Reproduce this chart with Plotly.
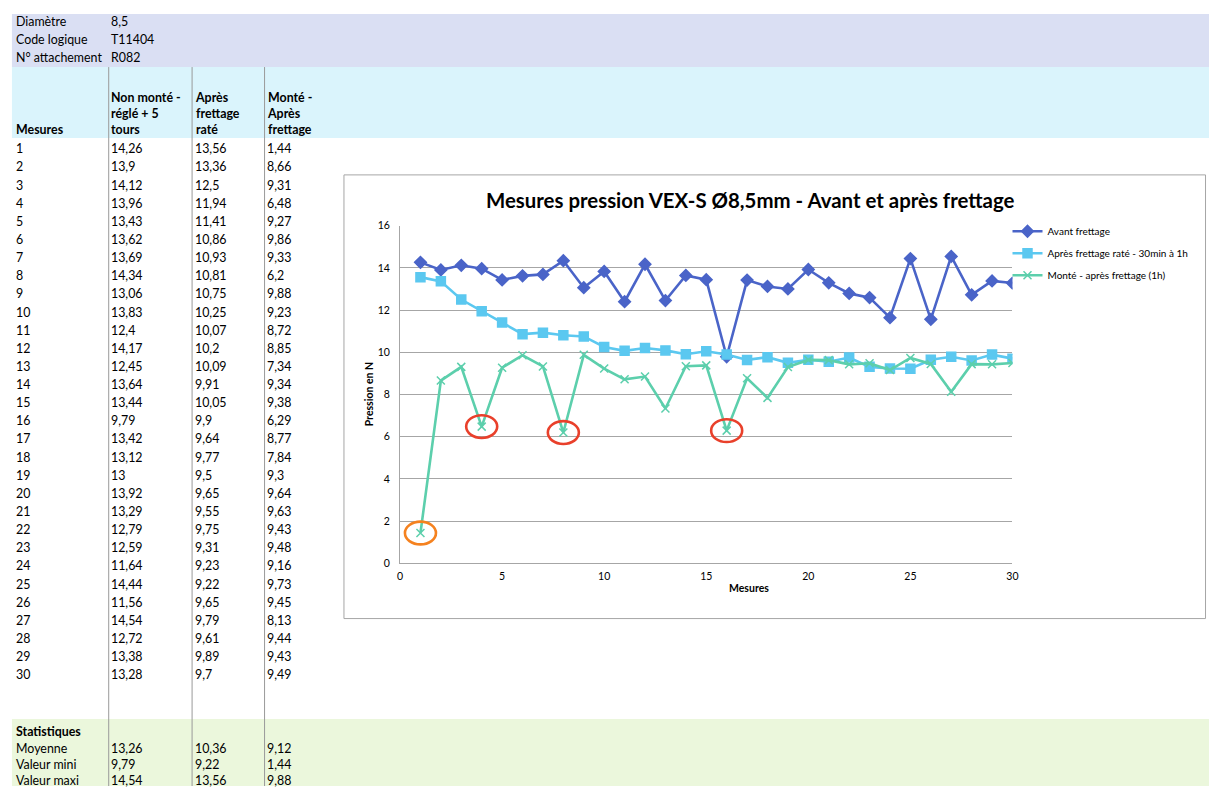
import plotly.graph_objects as go

W, H = 1215, 792
FONT = "Lato"

# ---------------- data ----------------
info_labels = ["Diamètre", "Code logique", "N° attachement"]
info_values = ["8,5", "T11404", "R082"]

header_cols = ["Mesures", "Non monté -<br>réglé + 5<br>tours", "Après<br>frettage<br>raté", "Monté -<br>Après<br>frettage"]

mesures = list(range(1, 31))
non_monte = [14.26, 13.9, 14.12, 13.96, 13.43, 13.62, 13.69, 14.34, 13.06, 13.83,
             12.4, 14.17, 12.45, 13.64, 13.44, 9.79, 13.42, 13.12, 13.0, 13.92,
             13.29, 12.79, 12.59, 11.64, 14.44, 11.56, 14.54, 12.72, 13.38, 13.28]
apres_rate = [13.56, 13.36, 12.5, 11.94, 11.41, 10.86, 10.93, 10.81, 10.75, 10.25,
              10.07, 10.2, 10.09, 9.91, 10.05, 9.9, 9.64, 9.77, 9.5, 9.65,
              9.55, 9.75, 9.31, 9.23, 9.22, 9.65, 9.79, 9.61, 9.89, 9.7]
monte = [1.44, 8.66, 9.31, 6.48, 9.27, 9.86, 9.33, 6.2, 9.88, 9.23,
         8.72, 8.85, 7.34, 9.34, 9.38, 6.29, 8.77, 7.84, 9.3, 9.64,
         9.63, 9.43, 9.48, 9.16, 9.73, 9.45, 8.13, 9.44, 9.43, 9.49]

stat_labels = ["Moyenne", "Valeur mini", "Valeur maxi"]
stat_non_monte = [13.26, 9.79, 14.54]
stat_apres_rate = [10.36, 9.22, 13.56]
stat_monte = [9.12, 1.44, 9.88]

series_names = ["Avant frettage", "Après frettage raté - 30min à 1h", "Monté - après frettage (1h)"]
red_circled = [4, 8, 16]      # measure numbers circled in red
orange_circled = [1]          # measure number circled in orange

chart_title = "Mesures pression VEX-S Ø8,5mm - Avant et après frettage"


def fx(x):
    return x / W


def fy(y):
    return 1 - y / H


def fmt(v):
    return f"{v:g}".replace(".", ",")


fig = go.Figure()

colors = ["#4a64c8", "#5bc8f0", "#5ccfac"]
symbols = ["diamond", "square", "x-thin-open"]
for k, (vals, name, c, s) in enumerate(zip([non_monte, apres_rate, monte], series_names, colors, symbols)):
    fig.add_trace(go.Scatter(
        x=mesures, y=vals, name=name, mode="lines+markers", legendgroup=f"g{k}",
        line=dict(color=c, width=2.6),
        marker=dict(symbol=s, size=9 if s != "x-thin-open" else 8, color=c,
                    line=dict(color=c, width=1.5)),
    ))

shapes = []
# background bands
shapes.append(dict(type="rect", xref="paper", yref="paper", x0=fx(9), x1=1, y0=fy(62), y1=fy(8),
                   fillcolor="#dadff3", line=dict(width=0), layer="below"))
shapes.append(dict(type="rect", xref="paper", yref="paper", x0=fx(9), x1=1, y0=fy(134), y1=fy(62),
                   fillcolor="#daf4fc", line=dict(width=0), layer="below"))
shapes.append(dict(type="rect", xref="paper", yref="paper", x0=fx(9), x1=1, y0=0, y1=fy(724),
                   fillcolor="#ebf7dc", line=dict(width=0), layer="below"))
# column separators
for xv in [106.5, 190.5, 263.5]:
    shapes.append(dict(type="line", xref="paper", yref="paper", x0=fx(xv), x1=fx(xv), y0=0, y1=fy(62),
                       line=dict(color="#9a9a9a", width=1), layer="below"))
# chart box
shapes.append(dict(type="rect", xref="paper", yref="paper", x0=fx(343.5), x1=fx(1211.5), y0=fy(622), y1=fy(171.5),
                   fillcolor="white", line=dict(color="#a6a6a6", width=1), layer="below"))


# circles around points
def circle(xv, yv, color):
    return dict(type="circle", xref="x", yref="y", x0=xv - 0.76, x1=xv + 0.76,
                y0=yv - 0.54, y1=yv + 0.54, line=dict(color=color, width=2.6))


for m in red_circled:
    shapes.append(circle(m, monte[m - 1], "#e9402b"))
for m in orange_circled:
    shapes.append(circle(m, monte[m - 1], "#f5821f"))

ann = []
TF = dict(family=FONT, size=12.4, color="black")
TB = dict(family=FONT, size=12.4, color="black", weight="bold")


def text(x, y, t, font=TF, **kw):
    d = dict(xref="paper", yref="paper", x=fx(x), y=fy(y), text=t, showarrow=False,
             xanchor="left", yanchor="middle", font=font)
    d.update(kw)
    ann.append(d)


# info rows
for i, (lab, val) in enumerate(zip(info_labels, info_values)):
    y = 15.5 + i * 18.5
    text(11, y, lab)
    text(107, y, val)

# header row (bottom aligned)
col_x = [11, 107, 191, 264]
for cx, h in zip(col_x, header_cols):
    ann.append(dict(xref="paper", yref="paper", x=fx(cx), y=fy(135), text=h, showarrow=False,
                    xanchor="left", yanchor="bottom", align="left", font=TB))

# data rows
step = (679 - 145) / 29
for i, m in enumerate(mesures):
    y = 145 + i * step
    text(11, y, str(m))
    text(107, y, fmt(non_monte[i]))
    text(191, y, fmt(apres_rate[i]))
    text(264, y, fmt(monte[i]))

# statistics
text(11, 737, "Statistiques", font=TB)
for i, lab in enumerate(stat_labels):
    y = 753.5 + i * 16.5
    text(11, y, lab)
    text(107, y, fmt(stat_non_monte[i]))
    text(191, y, fmt(stat_apres_rate[i]))
    text(264, y, fmt(stat_monte[i]))

# chart title & axis titles
ann.append(dict(xref="paper", yref="paper", x=fx(753), y=fy(197), text=chart_title, showarrow=False,
                xanchor="center", yanchor="middle",
                font=dict(family=FONT, size=20.4, color="black", weight="bold")))
ann.append(dict(xref="paper", yref="paper", x=fx(752), y=fy(591), text="Mesures", showarrow=False,
                xanchor="center", yanchor="middle",
                font=dict(family=FONT, size=10.5, color="black", weight="bold")))
ann.append(dict(xref="paper", yref="paper", x=fx(369), y=fy(394), text="Pression en N", showarrow=False,
                xanchor="center", yanchor="middle", textangle=-90,
                font=dict(family=FONT, size=10.5, color="black", weight="bold")))

fig.update_layout(
    width=W, height=H,
    margin=dict(l=0, r=0, t=0, b=0),
    paper_bgcolor="white",
    plot_bgcolor="rgba(0,0,0,0)",
    font=dict(family=FONT, size=10, color="black"),
    shapes=shapes,
    annotations=ann,
    showlegend=True,
    legend=dict(x=fx(1012), y=fy(214), xanchor="left", yanchor="top",
                bgcolor="rgba(0,0,0,0)", font=dict(family=FONT, size=10, color="black"),
                itemwidth=30, tracegroupgap=3, traceorder="grouped"),
    xaxis=dict(domain=[fx(400), fx(1017)], range=[0, 30], dtick=5, tick0=0,
               showgrid=False, zeroline=False, showline=True, linecolor="#a6a6a6", linewidth=1,
               ticks="", ticklabelstandoff=3, tickfont=dict(family=FONT, size=10.5, color="black")),
    yaxis=dict(domain=[fy(566), fy(223)], range=[0, 16], dtick=2, tick0=0,
               showgrid=True, gridcolor="#a6a6a6", gridwidth=1, zeroline=False,
               showline=True, linecolor="#a6a6a6", linewidth=1,
               ticks="", ticklabelstandoff=7, tickfont=dict(family=FONT, size=10.5, color="black")),
)

fig.write_html("out.html", config={"displayModeBar": False},
               post_script="document.body.style.margin='0';document.body.style.overflow='hidden';")
